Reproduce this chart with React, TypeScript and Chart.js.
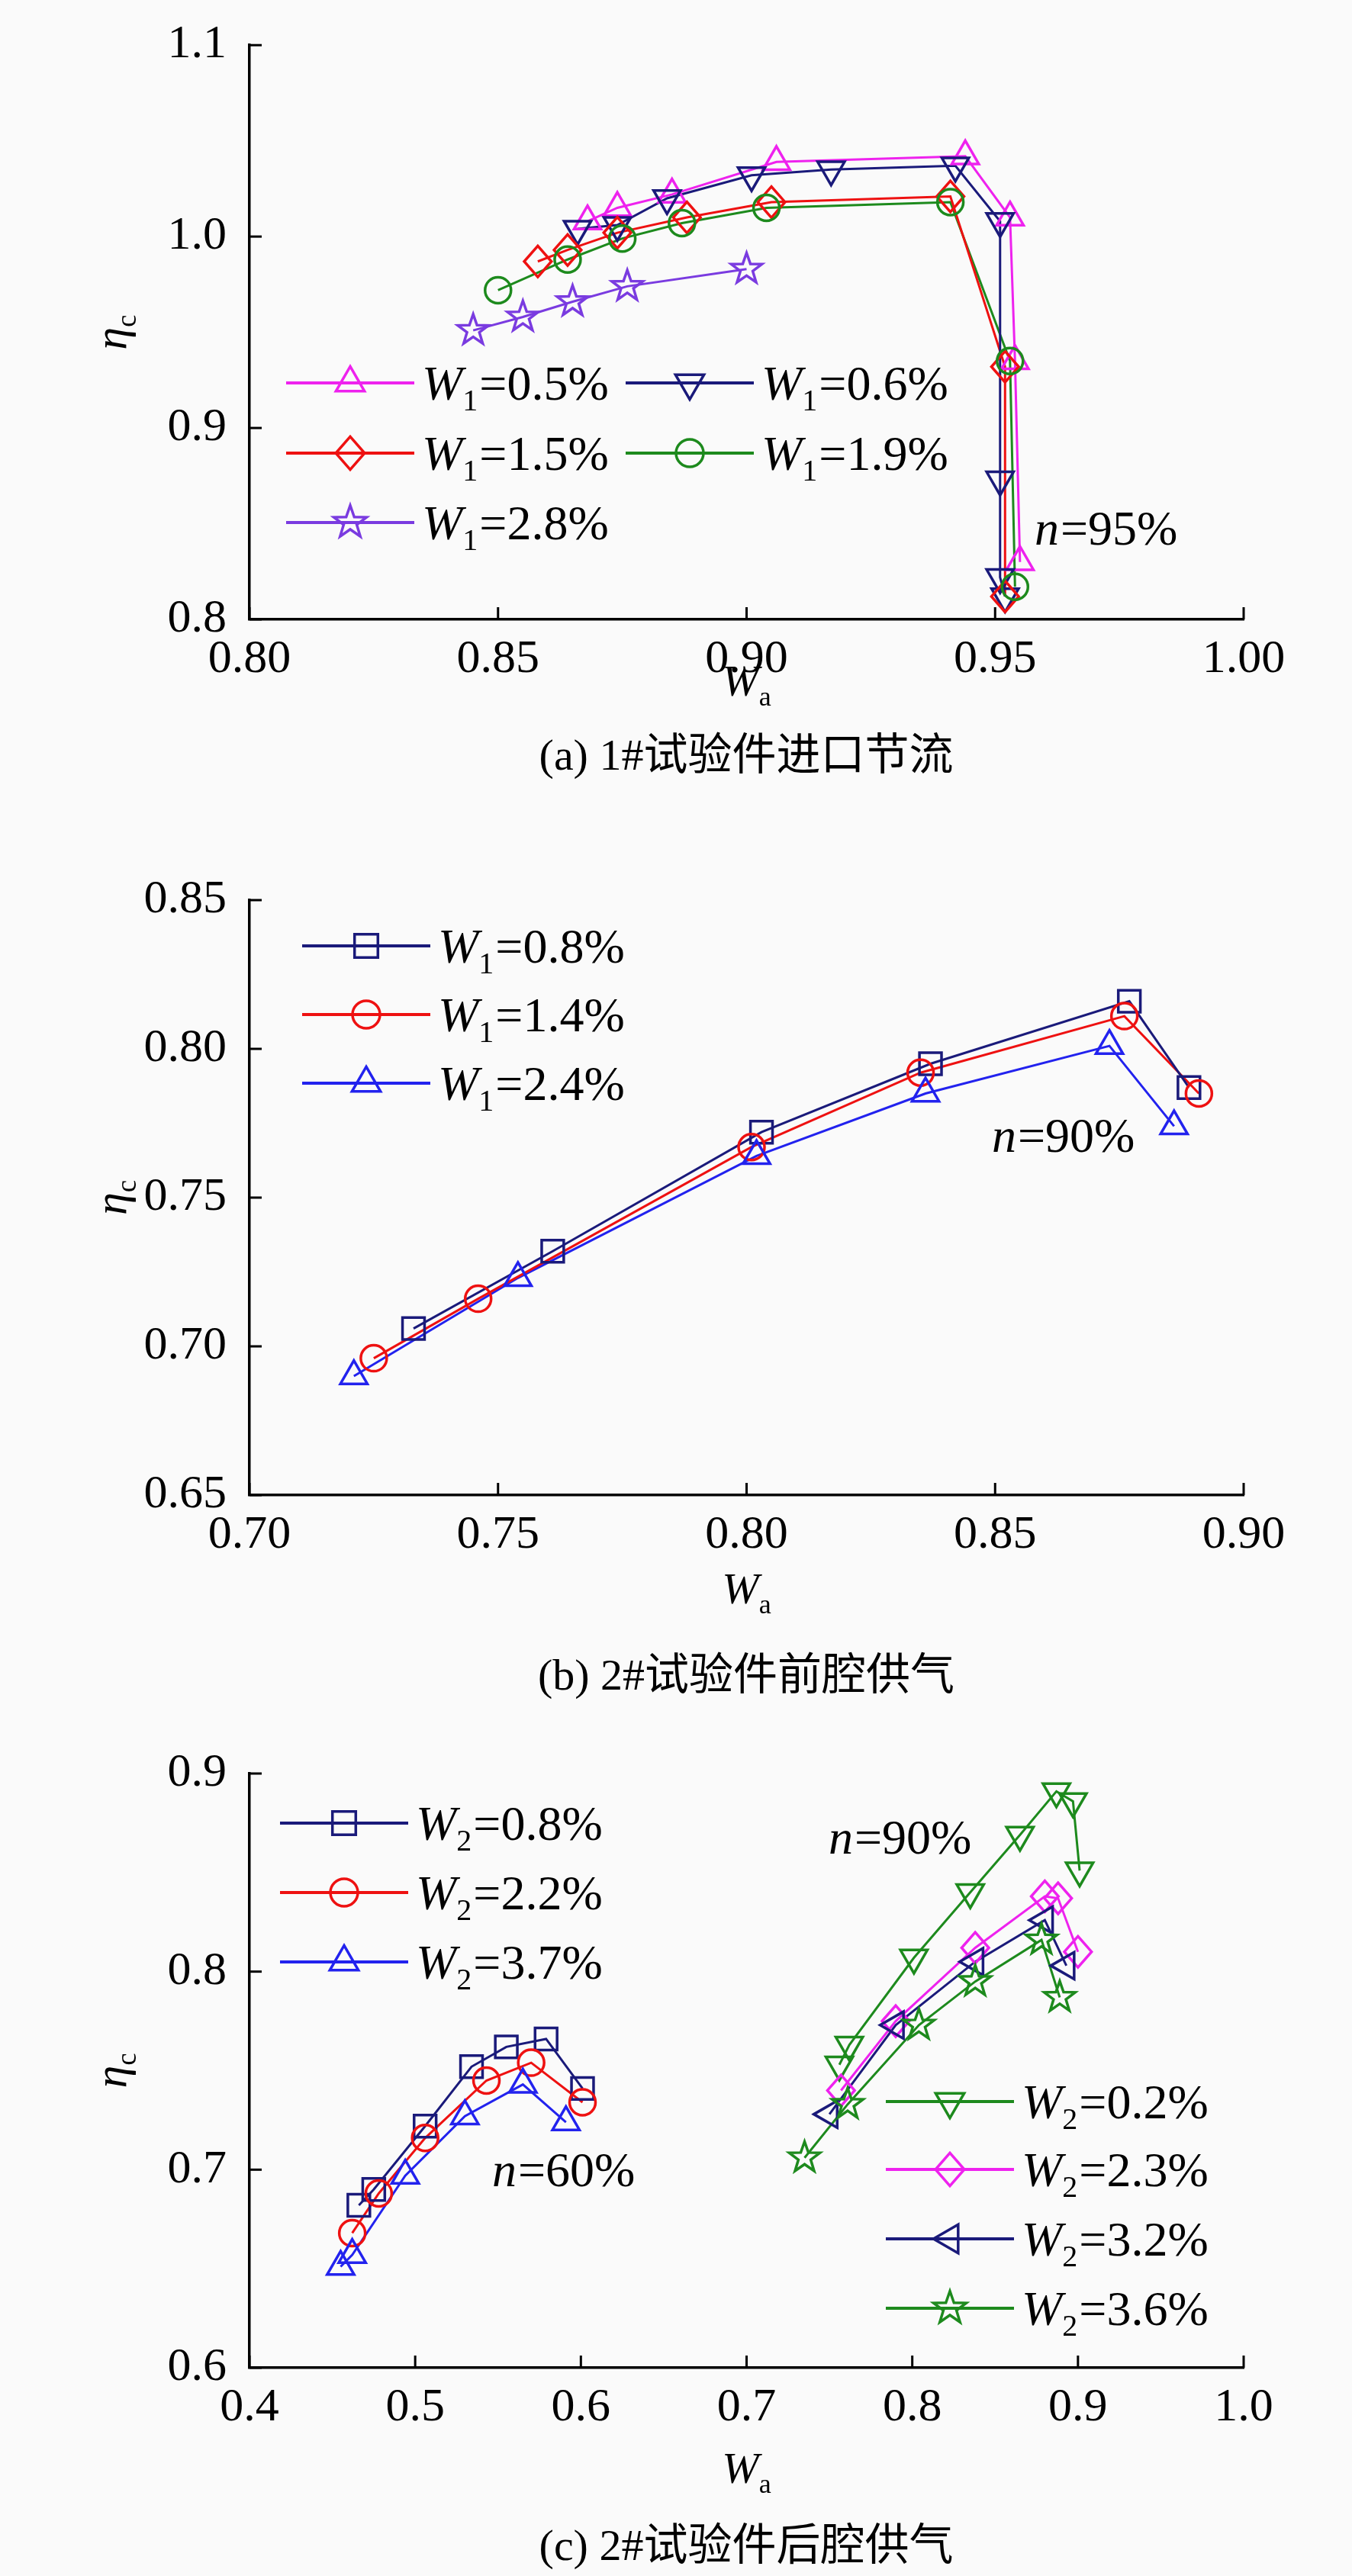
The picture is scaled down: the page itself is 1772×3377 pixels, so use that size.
import React, { useEffect, useRef } from "react";
import { Chart, registerables } from "chart.js";
Chart.register(...registerables);

// ---------- data ----------
const aX05 = [0.868, 0.874, 0.885, 0.906, 0.944, 0.953, 0.954, 0.955];
const aY05 = [1.008, 1.015, 1.022, 1.039, 1.042, 1.010, 0.935, 0.830];
const aX06 = [0.866, 0.874, 0.884, 0.901, 0.917, 0.942, 0.951, 0.951, 0.951, 0.952];
const aY06 = [1.004, 1.006, 1.020, 1.032, 1.035, 1.037, 1.008, 0.873, 0.822, 0.812];
const aX15 = [0.858, 0.864, 0.874, 0.888, 0.905, 0.941, 0.952, 0.952];
const aY15 = [0.987, 0.993, 1.002, 1.010, 1.018, 1.021, 0.932, 0.812];
const aX19 = [0.850, 0.864, 0.875, 0.887, 0.904, 0.941, 0.953, 0.954];
const aY19 = [0.972, 0.988, 0.999, 1.007, 1.015, 1.018, 0.935, 0.817];
const aX28 = [0.845, 0.855, 0.865, 0.876, 0.900];
const aY28 = [0.951, 0.958, 0.966, 0.974, 0.983];

const bX08 = [0.733, 0.761, 0.803, 0.837, 0.877, 0.889];
const bY08 = [0.706, 0.732, 0.772, 0.795, 0.816, 0.787];
const bX14 = [0.725, 0.746, 0.801, 0.835, 0.876, 0.891];
const bY14 = [0.696, 0.716, 0.767, 0.792, 0.811, 0.785];
const bX24 = [0.721, 0.754, 0.802, 0.836, 0.873, 0.886];
const bY24 = [0.690, 0.723, 0.764, 0.785, 0.801, 0.774];

const cX08 = [0.466, 0.475, 0.506, 0.534, 0.555, 0.579, 0.601];
const cY08 = [0.682, 0.690, 0.722, 0.752, 0.762, 0.766, 0.741];
const cX22 = [0.462, 0.478, 0.506, 0.543, 0.570, 0.601];
const cY22 = [0.668, 0.688, 0.716, 0.745, 0.754, 0.734];
const cX37 = [0.455, 0.462, 0.494, 0.530, 0.565, 0.591];
const cY37 = [0.651, 0.657, 0.697, 0.727, 0.743, 0.724];
const cX02 = [0.756, 0.762, 0.801, 0.835, 0.865, 0.887, 0.897, 0.901];
const cY02 = [0.753, 0.763, 0.807, 0.840, 0.869, 0.891, 0.886, 0.851];
const cX23 = [0.757, 0.790, 0.838, 0.880, 0.888, 0.900];
const cY23 = [0.740, 0.775, 0.812, 0.838, 0.837, 0.810];
const cX32 = [0.750, 0.790, 0.838, 0.880, 0.893];
const cY32 = [0.728, 0.773, 0.805, 0.826, 0.803];
const cX36 = [0.735, 0.761, 0.804, 0.838, 0.878, 0.889];
const cY36 = [0.706, 0.733, 0.773, 0.795, 0.816, 0.787];

const aXTicks = ["0.80", "0.85", "0.90", "0.95", "1.00"];
const aYTicks = ["0.8", "0.9", "1.0", "1.1"];
const bXTicks = ["0.70", "0.75", "0.80", "0.85", "0.90"];
const bYTicks = ["0.65", "0.70", "0.75", "0.80", "0.85"];
const cXTicks = ["0.4", "0.5", "0.6", "0.7", "0.8", "0.9", "1.0"];
const cYTicks = ["0.6", "0.7", "0.8", "0.9"];

const SERIF = "'Liberation Serif', 'DejaVu Serif', serif";
const BG = "#fafafa";

type Ser = { xs: number[]; ys: number[]; color: string; marker: string; sub: string; val: string };

function drawMarker(ctx: CanvasRenderingContext2D, type: string, x: number, y: number, r: number, color: string) {
  ctx.save();
  ctx.strokeStyle = color;
  ctx.lineWidth = 3.5;
  ctx.beginPath();
  const poly = (pts: [number, number][]) => {
    pts.forEach((p, i) => (i ? ctx.lineTo(x + p[0], y + p[1]) : ctx.moveTo(x + p[0], y + p[1])));
    ctx.closePath();
  };
  const tri = (rot: number) => {
    const pts: [number, number][] = [];
    for (let i = 0; i < 3; i++) {
      const a = rot + (i * 2 * Math.PI) / 3;
      pts.push([r * 1.2 * Math.cos(a), r * 1.2 * Math.sin(a)]);
    }
    poly(pts);
  };
  if (type === "tri") tri(-Math.PI / 2);
  else if (type === "triDown") tri(Math.PI / 2);
  else if (type === "triLeft") tri(Math.PI);
  else if (type === "rect") ctx.rect(x - r * 0.85, y - r * 0.85, r * 1.7, r * 1.7);
  else if (type === "circle") ctx.arc(x, y, r, 0, Math.PI * 2);
  else if (type === "diamond") poly([[0, -r * 1.2], [r * 1.05, 0], [0, r * 1.2], [-r * 1.05, 0]]);
  else if (type === "star") {
    const pts: [number, number][] = [];
    for (let i = 0; i < 10; i++) {
      const a = -Math.PI / 2 + (i * Math.PI) / 5;
      const rr = i % 2 ? r * 0.5 : r * 1.25;
      pts.push([rr * Math.cos(a), rr * Math.sin(a)]);
    }
    poly(pts);
  }
  ctx.stroke();
  ctx.restore();
}

function drawSub(ctx: CanvasRenderingContext2D, main: string, sub: string, rest: string, x: number, y: number, size: number, align: "left" | "center") {
  ctx.save();
  ctx.textBaseline = "alphabetic";
  ctx.textAlign = "left";
  ctx.fillStyle = "#000";
  const fm = `italic ${size}px ${SERIF}`;
  const fs = `${Math.round(size * 0.62)}px ${SERIF}`;
  const fr = `${size}px ${SERIF}`;
  ctx.font = fm; const w1 = ctx.measureText(main).width;
  ctx.font = fs; const w2 = ctx.measureText(sub).width;
  ctx.font = fr; const w3 = ctx.measureText(rest).width;
  const sx = align === "center" ? x - (w1 + w2 + w3) / 2 : x;
  ctx.font = fm; ctx.fillText(main, sx, y);
  ctx.font = fs; ctx.fillText(sub, sx + w1, y + size * 0.22);
  ctx.font = fr; ctx.fillText(rest, sx + w1 + w2 + 2, y);
  ctx.restore();
}

type LegItem = { s: Ser; x: number; y: number };
type Panel = {
  top: number; height: number; padTop: number; xH: number; xLabelY: number;
  xmin: number; xmax: number; xstep: number; xticks: string[];
  ymin: number; ymax: number; ystep: number; yticks: string[];
  series: Ser[]; legend: LegItem[]; notes: { t: string; x: number; y: number }[];
  caption: string; captionY: number;
};

function S(xs: number[], ys: number[], color: string, marker: string, sub: string, val: string): Ser {
  return { xs, ys, color, marker, sub, val };
}

const MAG = "#ee22ee", NAVY = "#1a1a7a", RED = "#ee1111", GRN = "#1d8a1d", PUR = "#7a3be0", BLU = "#2222ee";
const sa = [
  S(aX05, aY05, MAG, "tri", "1", "=0.5%"), S(aX06, aY06, NAVY, "triDown", "1", "=0.6%"),
  S(aX15, aY15, RED, "diamond", "1", "=1.5%"), S(aX19, aY19, GRN, "circle", "1", "=1.9%"),
  S(aX28, aY28, PUR, "star", "1", "=2.8%"),
];
const sb = [S(bX08, bY08, NAVY, "rect", "1", "=0.8%"), S(bX14, bY14, RED, "circle", "1", "=1.4%"), S(bX24, bY24, BLU, "tri", "1", "=2.4%")];
const sc = [
  S(cX08, cY08, NAVY, "rect", "2", "=0.8%"), S(cX22, cY22, RED, "circle", "2", "=2.2%"), S(cX37, cY37, BLU, "tri", "2", "=3.7%"),
  S(cX02, cY02, GRN, "triDown", "2", "=0.2%"), S(cX23, cY23, MAG, "diamond", "2", "=2.3%"),
  S(cX32, cY32, NAVY, "triLeft", "2", "=3.2%"), S(cX36, cY36, GRN, "star", "2", "=3.6%"),
];
const TB = 1100, TC = 2250;
const panels: Panel[] = [
  {
    top: 0, height: 940, padTop: 37, xH: 128, xLabelY: 912,
    xmin: 0.8, xmax: 1.0, xstep: 0.05, xticks: aXTicks, ymin: 0.8, ymax: 1.1, ystep: 0.1, yticks: aYTicks,
    series: sa,
    legend: [
      { s: sa[0], x: 375, y: 502 }, { s: sa[1], x: 820, y: 502 },
      { s: sa[2], x: 375, y: 594 }, { s: sa[3], x: 820, y: 594 },
      { s: sa[4], x: 375, y: 685 },
    ],
    notes: [{ t: "95%", x: 1356, y: 714 }],
    caption: "(a) 1#试验件进口节流", captionY: 990,
  },
  {
    top: TB, height: 1030, padTop: 80, xH: 170, xLabelY: 2102 - TB,
    xmin: 0.7, xmax: 0.9, xstep: 0.05, xticks: bXTicks, ymin: 0.65, ymax: 0.85, ystep: 0.05, yticks: bYTicks,
    series: sb,
    legend: [{ s: sb[0], x: 396, y: 1240 - TB }, { s: sb[1], x: 396, y: 1330 - TB }, { s: sb[2], x: 396, y: 1420 - TB }],
    notes: [{ t: "90%", x: 1300, y: 1510 - TB }],
    caption: "(b) 2#试验件前腔供气", captionY: 2196,
  },
  {
    top: TC, height: 1040, padTop: 75, xH: 186, xLabelY: 3255 - TC,
    xmin: 0.4, xmax: 1.0, xstep: 0.1, xticks: cXTicks, ymin: 0.6, ymax: 0.9, ystep: 0.1, yticks: cYTicks,
    series: sc,
    legend: [
      { s: sc[0], x: 367, y: 2390 - TC }, { s: sc[1], x: 367, y: 2481 - TC }, { s: sc[2], x: 367, y: 2572 - TC },
      { s: sc[3], x: 1161, y: 2755 - TC }, { s: sc[4], x: 1161, y: 2844 - TC },
      { s: sc[5], x: 1161, y: 2935 - TC }, { s: sc[6], x: 1161, y: 3026 - TC },
    ],
    notes: [{ t: "60%", x: 645, y: 2866 - TC }, { t: "90%", x: 1086, y: 2430 - TC }],
    caption: "(c) 2#试验件后腔供气", captionY: 3337,
  },
];

function PanelChart({ p }: { p: Panel }) {
  const ref = useRef<HTMLCanvasElement>(null);
  useEffect(() => {
    const plugin = {
      id: "deco",
      afterDatasetsDraw(chart: any) {
        const ctx = chart.ctx as CanvasRenderingContext2D;
        const a = chart.chartArea;
        chart.data.datasets.forEach((_ds: any, i: number) => {
          const meta = chart.getDatasetMeta(i);
          meta.data.forEach((pt: any) => drawMarker(ctx, p.series[i].marker, pt.x, pt.y, 17, p.series[i].color));
        });
        ctx.save();
        ctx.strokeStyle = "#000"; ctx.lineWidth = 3;
        const xs = chart.scales.x, ys = chart.scales.y;
        xs.ticks.forEach((t: any) => { const px = xs.getPixelForValue(t.value); ctx.beginPath(); ctx.moveTo(px, a.bottom); ctx.lineTo(px, a.bottom - 16); ctx.stroke(); });
        ys.ticks.forEach((t: any) => { const py = ys.getPixelForValue(t.value); ctx.beginPath(); ctx.moveTo(a.left, py); ctx.lineTo(a.left + 16, py); ctx.stroke(); });
        ctx.restore();
        drawSub(ctx, "W", "a", "", (a.left + a.right) / 2, p.xLabelY, 58, "center");
        ctx.save();
        ctx.translate(165, (a.top + a.bottom) / 2);
        ctx.rotate(-Math.PI / 2);
        drawSub(ctx, "η", "c", "", 0, 0, 60, "center");
        ctx.restore();
        p.legend.forEach((l) => {
          ctx.save();
          ctx.strokeStyle = l.s.color; ctx.lineWidth = 4;
          ctx.beginPath(); ctx.moveTo(l.x, l.y); ctx.lineTo(l.x + 168, l.y); ctx.stroke();
          ctx.restore();
          drawMarker(ctx, l.s.marker, l.x + 84, l.y, 18, l.s.color);
          drawSub(ctx, "W", l.s.sub, l.s.val, l.x + 178, l.y + 22, 64, "left");
        });
        p.notes.forEach((n) => drawSub(ctx, "n", "", "=" + n.t, n.x, n.y, 64, "left"));
      },
    };
    const dec = (s: number) => (s < 0.1 - 1e-9 ? 2 : 1);
    const chart = new Chart(ref.current!, {
      type: "scatter",
      data: {
        datasets: p.series.map((s) => ({
          data: s.xs.map((x, i) => ({ x, y: s.ys[i] })),
          showLine: true, borderColor: s.color, borderWidth: 3, pointRadius: 0, pointHoverRadius: 0,
        })),
      },
      options: {
        animation: false, responsive: false, devicePixelRatio: 1,
        layout: { padding: { top: p.padTop, left: 127, right: 142, bottom: 0 } },
        plugins: { legend: { display: false }, tooltip: { enabled: false } },
        scales: {
          x: {
            type: "linear", min: p.xmin, max: p.xmax,
            grid: { display: false }, border: { display: true, color: "#000", width: 3.5 },
            ticks: {
              stepSize: p.xstep, color: "#000", padding: 8, maxRotation: 0, font: { family: SERIF, size: 62 },
              callback: (v: any) => { const i = Math.round((v - p.xmin) / p.xstep); return p.xticks[i] ?? Number(v).toFixed(dec(p.xstep)); },
            },
            afterFit: (s: any) => { s.height = p.xH; },
          },
          y: {
            type: "linear", min: p.ymin, max: p.ymax,
            grid: { display: false }, border: { display: true, color: "#000", width: 3.5 },
            ticks: {
              stepSize: p.ystep, color: "#000", padding: 22, font: { family: SERIF, size: 62 },
              callback: (v: any) => { const i = Math.round((v - p.ymin) / p.ystep); return p.yticks[i] ?? Number(v).toFixed(dec(p.ystep)); },
            },
            afterFit: (s: any) => { s.width = 200; },
          },
        },
      },
      plugins: [plugin],
    } as any);
    return () => chart.destroy();
  }, [p]);
  return (
    <>
      <canvas ref={ref} width={1772} height={p.height} style={{ position: "absolute", left: 0, top: p.top, width: 1772, height: p.height }} />
      <div style={{ position: "absolute", left: 0, width: 1956, top: p.captionY - 36, textAlign: "center", fontFamily: "'Liberation Serif', 'Noto Sans CJK SC', serif", fontSize: 58, lineHeight: "72px", color: "#000" }}>
        {p.caption}
      </div>
    </>
  );
}

export default function App() {
  return (
    <div style={{ position: "absolute", left: 0, top: 0, width: 1772, height: 3377, background: BG, overflow: "hidden" }}>
      {panels.map((p, i) => <PanelChart key={i} p={p} />)}
    </div>
  );
}
